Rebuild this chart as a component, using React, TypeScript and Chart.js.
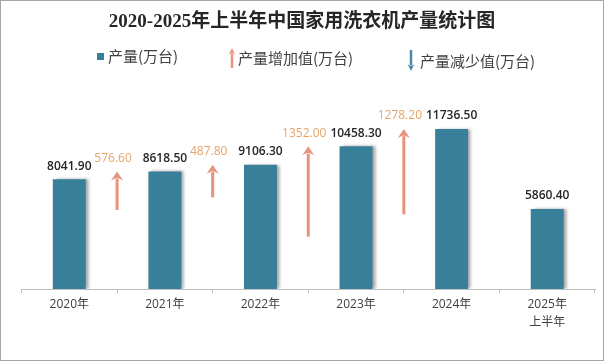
import React, { useEffect, useRef } from "react";
import { Chart, registerables } from "chart.js";

Chart.register(...registerables);

const TITLE = "2020-2025年上半年中国家用洗衣机产量统计图";
const categories: (string | string[])[] = ["2020年", "2021年", "2022年", "2023年", "2024年", ["2025年", "上半年"]];
const production = [8041.9, 8618.5, 9106.3, 10458.3, 11736.5, 5860.4];
const increase = [576.6, 487.8, 1352.0, 1278.2];
const legendLabels = ["产量(万台)", "产量增加值(万台)", "产量减少值(万台)"];

const BAR_COLOR = "#387F99";
const UP_COLOR = "#E8937B";
const DOWN_COLOR = "#4E88A6";
const UP_TEXT = "#E6A468";
const TEXT = "#404040";
const ARROW_SCALE = 4.9;
const LATIN = "'Open Sans', 'Noto Sans CJK SC', sans-serif";
const CJK = "'Noto Sans CJK SC', 'Open Sans', sans-serif";

function drawArrow(ctx: CanvasRenderingContext2D, x: number, yTail: number, yTip: number, color: string, shaft: number, headW: number, headH: number) {
  const dir = yTip < yTail ? -1 : 1;
  ctx.save();
  ctx.fillStyle = color;
  ctx.strokeStyle = color;
  ctx.lineWidth = shaft;
  ctx.beginPath();
  ctx.moveTo(x, yTail);
  ctx.lineTo(x, yTip - dir * headH * 0.8);
  ctx.stroke();
  ctx.beginPath();
  ctx.moveTo(x, yTip);
  ctx.lineTo(x - headW / 2, yTip - dir * headH);
  ctx.lineTo(x - shaft / 2, yTip - dir * headH * 0.75);
  ctx.lineTo(x + shaft / 2, yTip - dir * headH * 0.75);
  ctx.lineTo(x + headW / 2, yTip - dir * headH);
  ctx.closePath();
  ctx.fill();
  ctx.restore();
}

const overlayPlugin = {
  id: "overlay",
  beforeDraw(chart: any) {
    const ctx = chart.ctx as CanvasRenderingContext2D;
    ctx.save();
    ctx.fillStyle = "#ffffff";
    ctx.fillRect(0, 0, chart.width, chart.height);
    ctx.restore();
  },
  beforeDatasetDraw(chart: any) {
    const ctx = chart.ctx as CanvasRenderingContext2D;
    ctx.save();
    ctx.shadowColor = "rgba(0,0,0,0.35)";
    ctx.shadowBlur = 3;
    ctx.shadowOffsetX = 3;
    ctx.shadowOffsetY = 0;
  },
  afterDatasetDraw(chart: any) {
    chart.ctx.restore();
  },
  afterDatasetsDraw(chart: any) {
    const ctx = chart.ctx as CanvasRenderingContext2D;
    const xs = chart.scales.x;
    const ys = chart.scales.y;
    const meta = chart.getDatasetMeta(0);
    ctx.save();
    ctx.textAlign = "center";
    ctx.textBaseline = "middle";
    ctx.font = `600 12px ${LATIN}`;
    ctx.fillStyle = "#262626";
    meta.data.forEach((bar: any, i: number) => {
      ctx.fillText(production[i].toFixed(2), bar.x, bar.y - 13);
    });
    increase.forEach((d, i) => {
      const ax = (xs.getPixelForValue(i) + xs.getPixelForValue(i + 1)) / 2;
      const top = ys.getPixelForValue(production[i + 1]);
      const bottom = ys.getPixelForValue(production[i + 1] - d * ARROW_SCALE);
      drawArrow(ctx, ax, bottom, top, UP_COLOR, 3, 12, 9);
      ctx.font = `12px ${LATIN}`;
      ctx.fillStyle = UP_TEXT;
      ctx.fillText(d.toFixed(2), ax - 4, top - 13);
    });
    ctx.restore();
  },
  afterDraw(chart: any) {
    const ctx = chart.ctx as CanvasRenderingContext2D;
    ctx.save();
    // title
    ctx.textAlign = "center";
    ctx.textBaseline = "middle";
    ctx.fillStyle = "#262626";
    ctx.font = `bold 19px 'Liberation Serif', 'Noto Sans CJK SC', serif`;
    ctx.fillText(TITLE, chart.width / 2, 22);
    // legend
    ctx.textAlign = "left";
    ctx.font = `15px ${CJK}`;
    ctx.fillStyle = BAR_COLOR;
    ctx.fillRect(97, 53, 7, 7);
    ctx.fillStyle = TEXT;
    ctx.fillText(legendLabels[0], 108, 56.5);
    drawArrow(ctx, 232, 68, 48, UP_COLOR, 2.5, 7, 7);
    ctx.fillStyle = TEXT;
    ctx.fillText(legendLabels[1], 238, 58.5);
    drawArrow(ctx, 411, 50, 71, DOWN_COLOR, 2.5, 7, 7);
    ctx.fillStyle = TEXT;
    ctx.fillText(legendLabels[2], 420, 61);
    // border
    ctx.strokeStyle = "#a6a6a6";
    ctx.lineWidth = 1;
    ctx.strokeRect(0.5, 0.5, chart.width - 1, chart.height - 1);
    ctx.restore();
  },
};

export default function App() {
  const ref = useRef<HTMLCanvasElement | null>(null);
  useEffect(() => {
    if (!ref.current) return;
    const chart = new Chart(ref.current, {
      type: "bar",
      data: {
        labels: categories as any,
        datasets: [
          {
            label: legendLabels[0],
            data: production,
            backgroundColor: BAR_COLOR,
            borderWidth: 0,
            barPercentage: 0.345,
            categoryPercentage: 1,
          },
        ],
      },
      options: {
        responsive: false,
        animation: false,
        events: [],
        layout: { padding: { left: 21.5, right: 9, top: 98, bottom: 0 } },
        plugins: {
          legend: { display: false },
          title: { display: false },
          tooltip: { enabled: false },
        },
        scales: {
          x: {
            grid: {
              display: true,
              drawOnChartArea: false,
              drawTicks: true,
              tickLength: 4,
              color: "#bfbfbf",
              offset: true,
            },
            border: { display: true, color: "#bfbfbf", width: 1 },
            ticks: {
              color: TEXT,
              padding: 3,
              maxRotation: 0,
              autoSkip: false,
              font: { family: LATIN, size: 12, lineHeight: 1.5 },
            },
            afterFit: (scale: any) => {
              scale.height = 72;
            },
          },
          y: {
            display: false,
            min: 0,
            max: 14000,
          },
        },
      },
      plugins: [overlayPlugin],
    });
    return () => chart.destroy();
  }, []);
  return (
    <div style={{ position: "absolute", left: 0, top: 0, width: 604, height: 361 }}>
      <canvas ref={ref} width={604} height={361} style={{ display: "block" }} />
    </div>
  );
}
